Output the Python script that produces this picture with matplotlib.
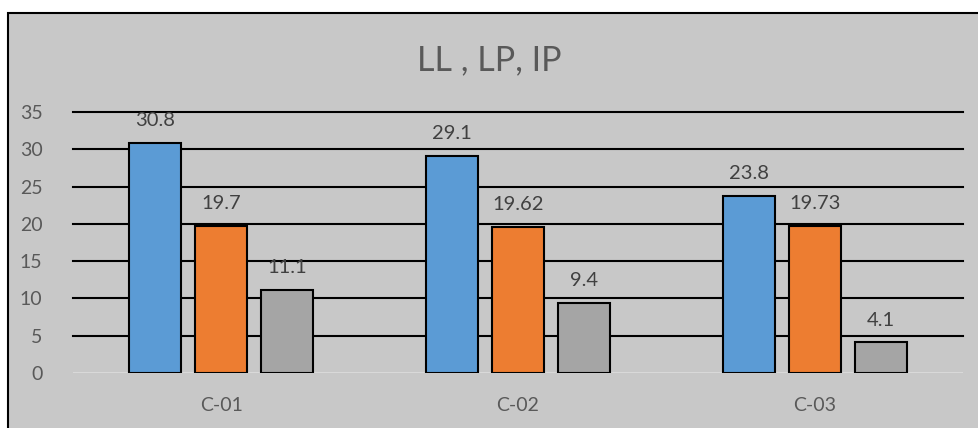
import matplotlib
matplotlib.use("Agg")
import matplotlib.pyplot as plt
import numpy as np
from matplotlib.patches import Rectangle

categories = ["C-01", "C-02", "C-03"]
ll_values = [30.8, 29.1, 23.8]
lp_values = [19.7, 19.62, 19.73]
ip_values = [11.1, 9.4, 4.1]
ll_labels = ["30.8", "29.1", "23.8"]
lp_labels = ["19.7", "19.62", "19.73"]
ip_labels = ["11.1", "9.4", "4.1"]
yticks = [0, 5, 10, 15, 20, 25, 30, 35]

plt.rcParams["font.family"] = ["Lato", "DejaVu Sans"]
text_color = "#595959"
bg = "#c8c8c8"

fig = plt.figure(figsize=(9.79, 4.28), dpi=100, facecolor="white")
# chart area with its black frame
fig.patches.append(Rectangle((8 / 979, -0.1), 1.2, (428 - 13) / 428 + 0.1,
                             transform=fig.transFigure, facecolor=bg,
                             edgecolor="black", linewidth=1.5, zorder=-5))

ax = fig.add_axes([73 / 979, 55 / 428, (963 - 73) / 979, (373 - 112) / 428])
ax.set_zorder(2)
ax.set_facecolor("none")
ax.set_xlim(-0.5, 2.5)
ax.set_ylim(0, 35)

x = np.arange(len(categories))
w = 0.175
step = 0.2225
series = [(ll_values, ll_labels, "#5b9bd5"),
          (lp_values, lp_labels, "#ed7d31"),
          (ip_values, ip_labels, "#a5a5a5")]
for i, (vals, labs, col) in enumerate(series):
    pos = x + (i - 1) * step
    ax.bar(pos, vals, width=w, color=col, edgecolor="black", linewidth=1.5, zorder=3)
    for p, v, t in zip(pos, vals, labs):
        ax.annotate(t, (p, v), xytext=(0, 10), textcoords="offset points",
                    ha="center", va="bottom", fontsize=14.5, color="#404040", zorder=4)

for y in yticks[1:]:
    ax.axhline(y, color="black", linewidth=1.5, zorder=1, clip_on=False)
ax.axhline(0, color="#d9d9d9", linewidth=1.5, zorder=2)

for s in ax.spines.values():
    s.set_visible(False)
ax.set_yticks(yticks)
ax.set_yticklabels([str(v) for v in yticks])
ax.set_xticks(x)
ax.set_xticklabels(categories)
ax.tick_params(axis="both", length=0, labelsize=14, colors=text_color)
ax.tick_params(axis="y", pad=22)
ax.tick_params(axis="x", pad=17)

fig.text(0.5, (428 - 60) / 428, "LL , LP, IP", ha="center", va="center",
         fontsize=24.5, color=text_color)

fig.savefig("out.png", dpi=100, facecolor="white")
